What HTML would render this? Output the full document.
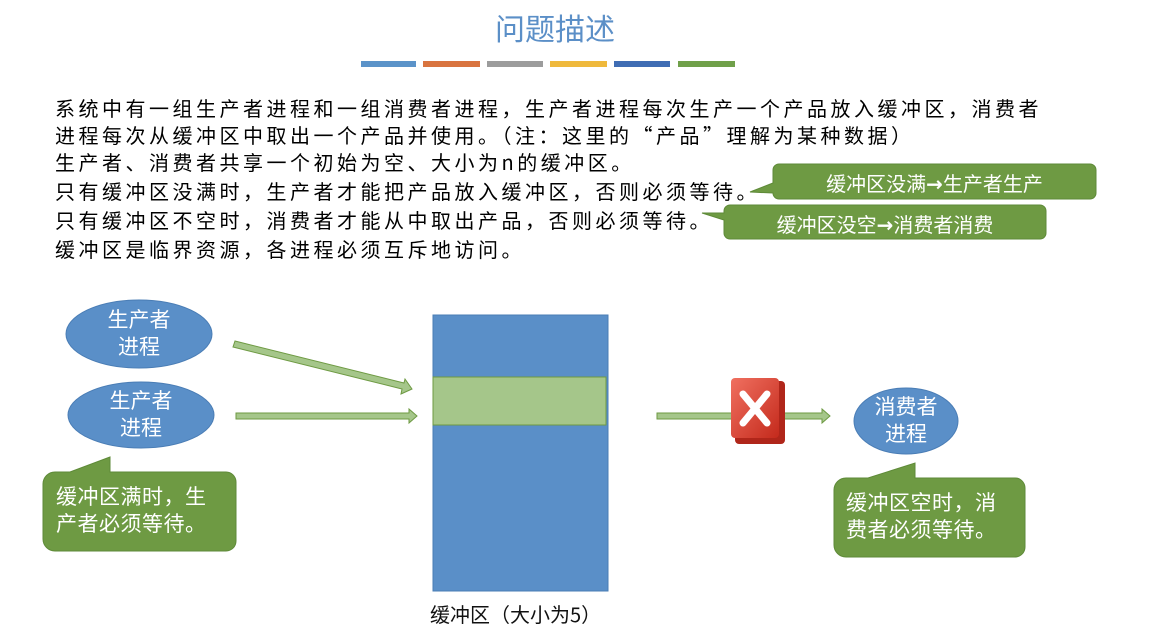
<!DOCTYPE html>
<html><head><meta charset="utf-8"><style>
html,body{margin:0;padding:0;background:#fff;}
body{width:1152px;height:641px;position:relative;overflow:hidden;font-family:"Liberation Sans","Noto Sans CJK SC",sans-serif;}
.t{position:absolute;white-space:nowrap;}
.line{position:absolute;left:55px;font-size:20px;letter-spacing:3.5px;color:#000;white-space:nowrap;line-height:28px;font-family:"Noto Sans CJK SC",sans-serif;}
.ar{font-family:"DejaVu Sans",sans-serif;font-weight:bold;}
</style></head><body>
<svg width="1152" height="641" style="position:absolute;left:0;top:0">
<defs><linearGradient id="rg" x1="0" y1="0" x2="1" y2="1"><stop offset="0" stop-color="#f07060"/><stop offset="1" stop-color="#c42a1c"/></linearGradient></defs>
<rect x="361" y="61" width="55" height="6" fill="#5b93c9"/>
<rect x="423" y="61" width="57" height="6" fill="#d9743f"/>
<rect x="487" y="61" width="56" height="6" fill="#9c9c9c"/>
<rect x="550" y="61" width="57" height="6" fill="#efb93c"/>
<rect x="614" y="61" width="56" height="6" fill="#3f6db4"/>
<rect x="678" y="61" width="57" height="6" fill="#70a04a"/>
<path d="M779,164 H1090 a6,6 0 0 1 6,6 V193 a6,6 0 0 1 -6,6 H779 a6,6 0 0 1 -6,-6 V193 L750,192 L773,183 V170 a6,6 0 0 1 6,-6Z" fill="#6e9a43" stroke="#5e8a38"/>
<path d="M730,205 H1040 a6,6 0 0 1 6,6 V233 a6,6 0 0 1 -6,6 H730 a6,6 0 0 1 -6,-6 V220 L702,213 L724,213 V211 a6,6 0 0 1 6,-6Z" fill="#6e9a43" stroke="#5e8a38"/>
<ellipse cx="139" cy="334" rx="73" ry="34" fill="#5a8fc8" stroke="#4a7db5"/>
<ellipse cx="141" cy="415" rx="73" ry="33" fill="#5a8fc8" stroke="#4a7db5"/>
<ellipse cx="906" cy="421" rx="52" ry="33" fill="#5a8fc8" stroke="#4a7db5"/>
<path d="M55,472 H70 L110,457 V472 H226 a10,10 0 0 1 10,10 V541 a10,10 0 0 1 -10,10 H55 a12,12 0 0 1 -12,-12 V484 a12,12 0 0 1 12,-12Z" fill="#6e9a43" stroke="#5e8a38"/>
<path d="M846,478 H868 L915,463 V478 H1015 a10,10 0 0 1 10,10 V547 a10,10 0 0 1 -10,10 H846 a12,12 0 0 1 -12,-12 V490 a12,12 0 0 1 12,-12Z" fill="#6e9a43" stroke="#5e8a38"/>
<rect x="433" y="315" width="175" height="276" fill="#5a8fc8" stroke="#4a7db5"/>
<rect x="433" y="377" width="173" height="48" fill="#a5c68a" stroke="#6e9a43"/>
<polygon points="235,341 404,383 405,379 412,389 401,394 402,389 233,347" fill="#a5c68a" stroke="#6e9a43"/>
<polygon points="236,413 409,413 409,409 417,416 409,423 409,419 236,419" fill="#a5c68a" stroke="#6e9a43"/>
<polygon points="657,413 822,413 822,409 830,416 822,423 822,419 657,419" fill="#a5c68a" stroke="#6e9a43"/>
<rect x="735" y="381" width="50" height="63" rx="4" fill="#b0261a"/>
<rect x="731" y="378" width="48" height="60" rx="4" fill="url(#rg)"/>
<path d="M743,394 L767,423 M767,394 L743,423" stroke="#fff" stroke-width="7" stroke-linecap="round"/>
</svg>
<div class="t" style="left:0;width:1110px;text-align:center;top:5px;font-size:30px;color:#5b8fc7;">问题描述</div>
<div class="line" style="top:94px">系统中有一组生产者进程和一组消费者进程，生产者进程每次生产一个产品放入缓冲区，消费者</div>
<div class="line" style="top:121px">进程每次从缓冲区中取出一个产品并使用。（注：这里的“产品”理解为某种数据）</div>
<div class="line" style="top:148px">生产者、消费者共享一个初始为空、大小为n的缓冲区。</div>
<div class="line" style="top:177px">只有缓冲区没满时，生产者才能把产品放入缓冲区，否则必须等待。</div>
<div class="line" style="top:206px">只有缓冲区不空时，消费者才能从中取出产品，否则必须等待。</div>
<div class="line" style="top:235px">缓冲区是临界资源，各进程必须互斥地访问。</div>
<div class="t" style="left:773px;width:323px;top:168px;font-size:20px;color:#fff;text-align:center;">缓冲区没满<span class="ar">→</span>生产者生产</div>
<div class="t" style="left:724px;width:322px;top:209px;font-size:20px;color:#fff;text-align:center;">缓冲区没空<span class="ar">→</span>消费者消费</div>
<div class="t" style="left:66px;width:146px;top:307px;font-size:21px;color:#fff;text-align:center;line-height:27px;">生产者<br>进程</div>
<div class="t" style="left:68px;width:146px;top:388px;font-size:21px;color:#fff;text-align:center;line-height:27px;">生产者<br>进程</div>
<div class="t" style="left:854px;width:104px;top:394px;font-size:21px;color:#fff;text-align:center;line-height:27px;">消费者<br>进程</div>
<div class="t" style="left:56px;top:484px;font-size:21px;color:#fff;line-height:27px;letter-spacing:0.5px;">缓冲区满时，生<br>产者必须等待。</div>
<div class="t" style="left:846px;top:490px;font-size:21px;color:#fff;line-height:27px;letter-spacing:0.5px;">缓冲区空时，消<br>费者必须等待。</div>
<div class="t" style="left:430px;top:599px;font-size:20px;color:#111;font-family:'Noto Sans CJK SC',sans-serif;">缓冲区（大小为5）</div>
</body></html>
